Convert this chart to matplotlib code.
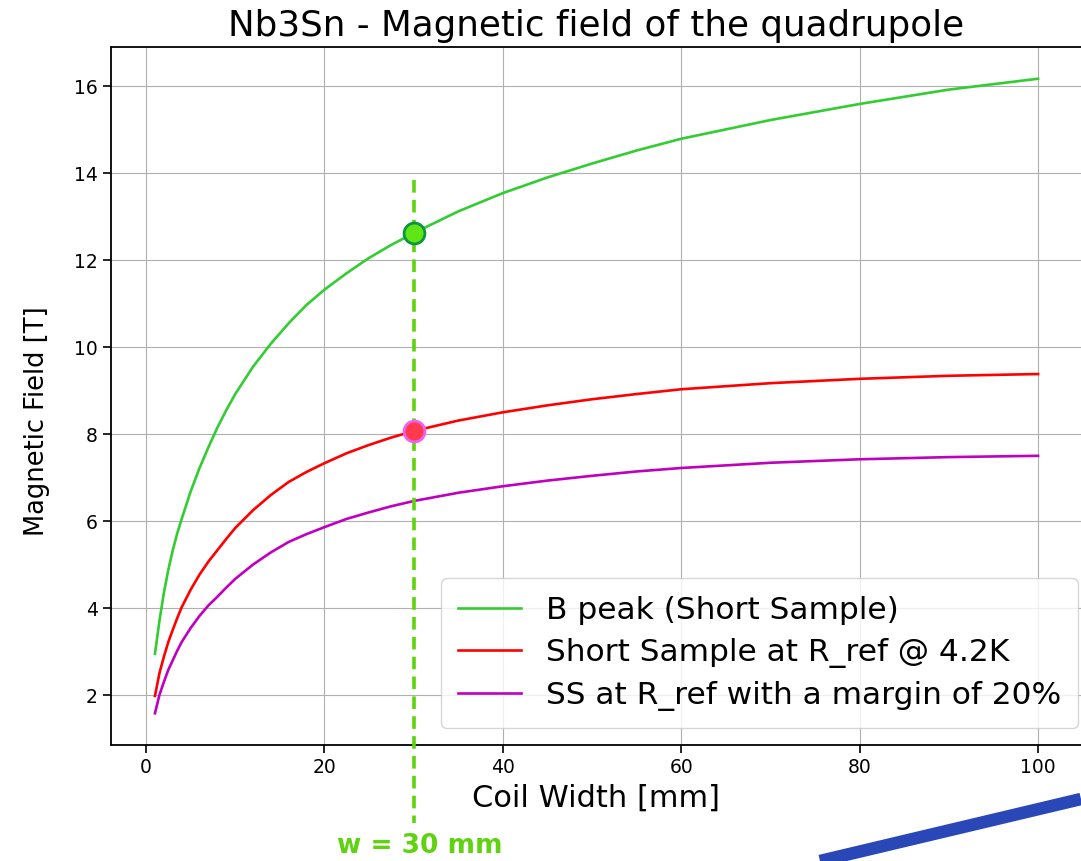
import matplotlib
matplotlib.use("Agg")
import matplotlib.pyplot as plt
from matplotlib.lines import Line2D

# ---- data ----
coil_width = [1, 1.5, 2, 2.5, 3, 3.5, 4, 5, 6, 7, 8, 9, 10, 12, 14, 16, 18, 20,
              22.5, 25, 27.5, 30, 35, 40, 45, 50, 55, 60, 70, 80, 90, 100]
b_peak = [2.95, 3.70, 4.35, 4.88, 5.33, 5.72, 6.05, 6.68, 7.22, 7.70, 8.15,
          8.55, 8.92, 9.55, 10.08, 10.55, 10.97, 11.32, 11.70, 12.05, 12.35,
          12.62, 13.12, 13.54, 13.90, 14.22, 14.52, 14.79, 15.22, 15.59, 15.92,
          16.17]
ss_ref = [1.98, 2.50, 2.88, 3.22, 3.50, 3.77, 4.02, 4.42, 4.77, 5.07, 5.33,
          5.59, 5.84, 6.25, 6.60, 6.90, 7.13, 7.33, 7.56, 7.75, 7.92, 8.07,
          8.31, 8.50, 8.66, 8.80, 8.92, 9.03, 9.17, 9.27, 9.34, 9.38]
ss_margin = [1.58, 2.00, 2.30, 2.58, 2.80, 3.02, 3.22, 3.54, 3.82, 4.06, 4.26,
             4.47, 4.67, 5.00, 5.28, 5.52, 5.70, 5.86, 6.05, 6.20, 6.34, 6.46,
             6.65, 6.80, 6.93, 7.04, 7.14, 7.22, 7.34, 7.42, 7.47, 7.50]
series_labels = ["B peak (Short Sample)", "Short Sample at R_ref @ 4.2K",
                 "SS at R_ref with a margin of 20%"]
w_sel = 30
sel_values = [12.62, 8.07]  # B peak, SS at R_ref at w = 30 mm
line_top = 13.84
line_bottom = -0.95

W, H = 1081, 861
fig = plt.figure(figsize=(W / 100, H / 100), dpi=100)
ax = fig.add_axes([110.8 / W, 1 - 745 / H, 971.4 / W, 698 / H])

ax.plot(coil_width, b_peak, color="#33cc33", lw=1.9, label=series_labels[0])
ax.plot(coil_width, ss_ref, color="red", lw=1.9, label=series_labels[1])
ax.plot(coil_width, ss_margin, color="#bf00bf", lw=1.9, label=series_labels[2])

# freeze the default (autoscaled) limits before adding the annotation marks
ax.set_xlim(ax.get_xlim())
ax.set_ylim(ax.get_ylim())

ax.grid(True, color="#b0b0b0", lw=0.8)
ax.set_axisbelow(True)

# dashed marker line at selected width
ax.plot([w_sel, w_sel], [line_top, line_bottom], color="#5fd30f", lw=2.6,
        ls=(0, (3.5, 2.0)), clip_on=False, zorder=4)
ax.plot([w_sel], [sel_values[0]], marker="o", ms=15, mfc="#5fe614",
        mec="#0a9640", mew=2, ls="none", zorder=5)
ax.plot([w_sel], [sel_values[1]], marker="o", ms=15, mfc="#ff3a4f",
        mec="#f060f0", mew=2, ls="none", zorder=5)

ax.set_xticks([0, 20, 40, 60, 80, 100])
ax.set_yticks([2, 4, 6, 8, 10, 12, 14, 16])
ax.tick_params(labelsize=13.5, length=6, width=1.2)
for s in ax.spines.values():
    s.set_linewidth(1.3)

ax.set_title("Nb3Sn - Magnetic field of the quadrupole", fontsize=25.7, pad=8)
ax.set_xlabel("Coil Width [mm]", fontsize=22, labelpad=5)
ax.set_ylabel("Magnetic Field [T]", fontsize=18.5)
ax.yaxis.set_label_coords(-0.0626, 0.464)

ax.legend(loc="lower right", fontsize=22.5, handlelength=2.0,
          borderaxespad=0.0, framealpha=0.8, borderpad=0.55,
          labelspacing=0.42,
          bbox_to_anchor=((1078 - 110.8) / 971.4, (745 - 728) / 698))

fig.text(420 / W, 1 - 846 / H, "w = 30 mm", color="#5fd30f",
         fontsize=19, fontweight="bold", ha="center", va="center")

# decorative blue stroke (slide background element)
fig.add_artist(Line2D([820 / W, 1.0], [0.0, 62 / H], color="#2a47b8",
                      lw=9, solid_capstyle="butt", transform=fig.transFigure))

fig.savefig("out.png", dpi=100)
